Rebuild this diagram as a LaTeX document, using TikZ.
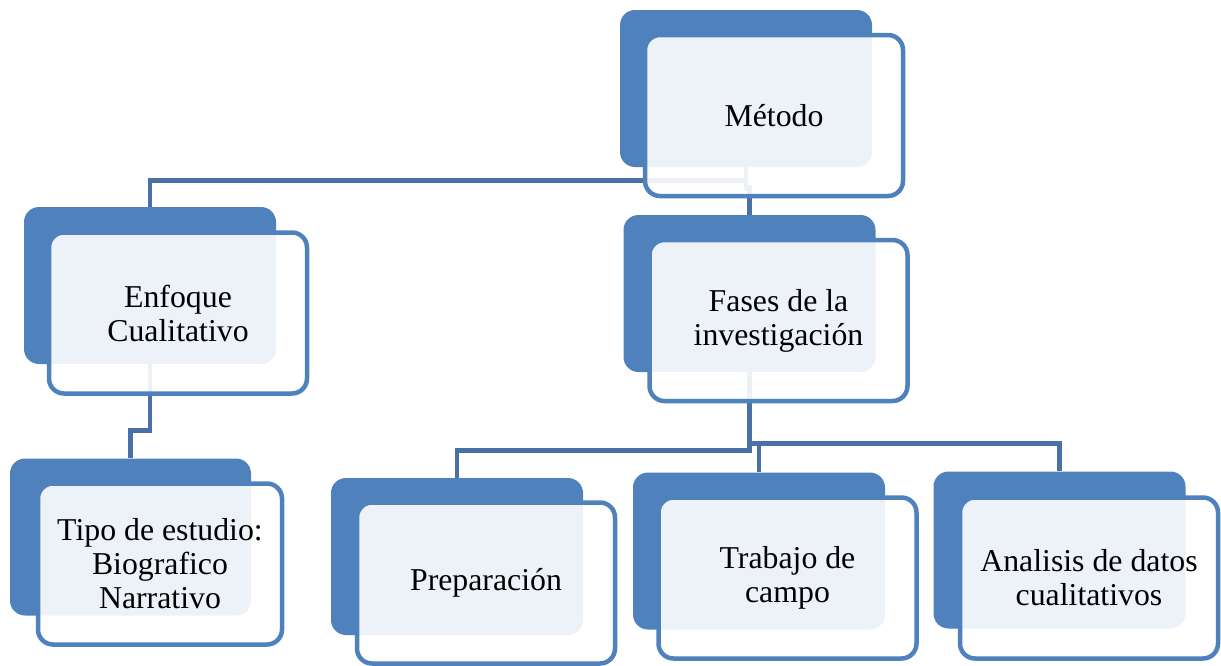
\documentclass[tikz,border=0pt]{standalone}
\usepackage{fontspec}
\setmainfont{Liberation Serif}
\usetikzlibrary{positioning}
\definecolor{boxblue}{HTML}{4F81BD}
\definecolor{lineblue}{HTML}{4A71A6}
\tikzset{back/.style={fill=boxblue, rounded corners=7.5pt, minimum width=126pt, minimum height=78.5pt, inner sep=0pt}}
\tikzset{front/.style={draw=boxblue, line width=2.25pt, fill=white, fill opacity=0.9, text opacity=1, rounded corners=7.5pt, minimum width=129pt, minimum height=80.5pt, align=center, font=\fontsize{15.9}{17}\selectfont}}
\tikzset{link/.style={draw=lineblue, line width=2.2pt}}
\begin{document}
\begin{tikzpicture}[x=0.5pt,y=-0.5pt]
\useasboundingbox (0,0) rectangle (1221,665);
% back boxes
\node[back] (metodoB) at (746,88.5) {};
\node[back] (fasesB) at (749.5,293.5) {};
\node[back] (enfoqueB) at (150,285.5) {};
\node[back, minimum width=120.5pt] (tipoB) at (130.5,537) {};
\node[back] (prepB) at (457,556.5) {};
\node[back] (trabajoB) at (759,551) {};
\node[back] (analisisB) at (1059.5,550) {};
% connectors
\draw[link] (metodoB.south) -- ++(0,13) -| (enfoqueB.north);
\draw[link] (metodoB.south) -- ++(0,20) -| (fasesB.north);
\draw[link] (enfoqueB.south) -- ++(0,66) -| (tipoB.north);
\draw[link] (fasesB.south) -- ++(0,78) -| (prepB.north);
\draw[link] (fasesB.south) -- ++(0,71) -| (trabajoB.north);
\draw[link] (fasesB.south) -- ++(0,71) -| (analisisB.north);
% front boxes
\node[front] (metodo) at ([shift={(28,27)}]metodoB) {Método};
\node[front] (fases) at ([shift={(29,27)}]fasesB) {Fases de la\\investigación};
\node[front] (enfoque) at ([shift={(28,27.5)}]enfoqueB) {Enfoque\\Cualitativo};
\node[front, minimum width=122pt] (tipo) at ([shift={(29.5,27)}]tipoB) {Tipo de estudio:\\Biografico\\Narrativo};
\node[front] (prep) at ([shift={(29,26.5)}]prepB) {Preparación};
\node[front] (trabajo) at ([shift={(28.5,27)}]trabajoB) {Trabajo de\\campo};
\node[front] (analisis) at ([shift={(29.5,28)}]analisisB) {Analisis de datos\\cualitativos};
\end{tikzpicture}
\end{document}
